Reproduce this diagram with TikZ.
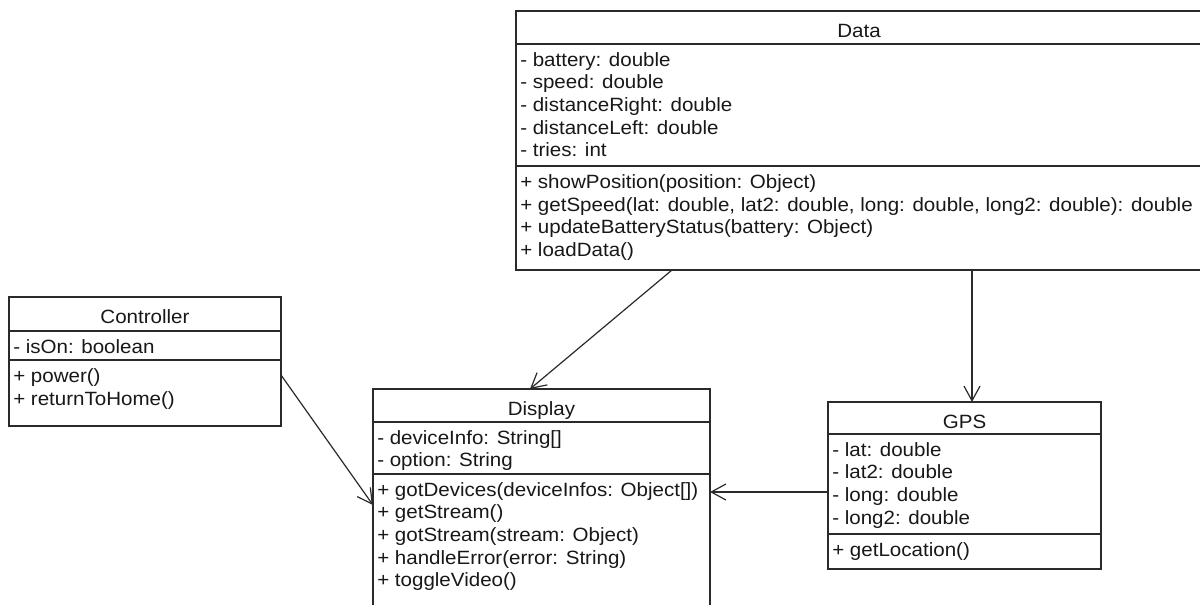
\documentclass[tikz,border=0pt]{standalone}
\usepackage{fontspec}
\setmainfont[FakeStretch=1.07]{Liberation Sans}
\usetikzlibrary{arrows.meta,fit}
\definecolor{ink}{HTML}{181818}
\definecolor{edge}{HTML}{2A2A2A}
\begin{document}
\begin{tikzpicture}[x=0.75pt,y=-0.75pt,
  box/.style={draw=edge, line width=1pt, inner sep=0pt, outer sep=0pt},
  rule/.style={draw=edge, line width=1pt},
  title/.style={anchor=base, inner sep=0pt, text=ink, font=\fontsize{14.4pt}{16pt}\selectfont},
  member/.style={anchor=base west, inner sep=0pt, text=ink, font=\fontsize{14.4pt}{16pt}\selectfont},
  dep/.style={draw=edge, line width=0.9pt, -{Straight Barb[length=11pt,width=12pt]}}]
\useasboundingbox (0,0) rectangle (1200,604);
\fill[white] (0,0) rectangle (1200,604);
\clip (0,0) rectangle (1200,604);

% ---- class Data ----
\node[box, fit={(516,11) (1203,270)}] (data) {};
\draw[rule] (data.west |- 0,44) -- (data.east |- 0,44);
\draw[rule] (data.west |- 0,166) -- (data.east |- 0,166);
\node[title] (dataT) at (859,37) {Data};
\node[member] (da1) at (520,66) {- battery: double};
\node[member] (da2) at (520,88.7) {- speed: double};
\node[member] (da3) at (520,111.4) {- distanceRight: double};
\node[member] (da4) at (520,134.1) {- distanceLeft: double};
\node[member] (da5) at (520,156.8) {- tries: int};
\node[member] (dm1) at (520,188.5) {+ showPosition(position: Object)};
\node[member] (dm2) at (520,211.2) {+ getSpeed(lat: double, lat2: double, long: double, long2: double): double};
\node[member] (dm3) at (520,233.9) {+ updateBatteryStatus(battery: Object)};
\node[member] (dm4) at (520,256.6) {+ loadData()};

% ---- class Controller ----
\node[box, fit={(9,297) (281,426)}] (ctrl) {};
\draw[rule] (ctrl.west |- 0,331) -- (ctrl.east |- 0,331);
\draw[rule] (ctrl.west |- 0,360) -- (ctrl.east |- 0,360);
\node[title] (ctrlT) at (ctrl.north |- 0,323) {Controller};
\node[member] (ca1) at (13,353) {- isOn: boolean};
\node[member] (cm1) at (13,382) {+ power()};
\node[member] (cm2) at (13,405) {+ returnToHome()};

% ---- class Display ----
\node[box, fit={(373,389) (710,640)}] (display) {};
\draw[rule] (display.west |- 0,422) -- (display.east |- 0,422);
\draw[rule] (display.west |- 0,474) -- (display.east |- 0,474);
\node[title] (dispT) at (display.north |- 0,415) {Display};
\node[member] (pa1) at (377,444) {- deviceInfo: String[]};
\node[member] (pa2) at (377,466.5) {- option: String};
\node[member] (pm1) at (377,496) {+ gotDevices(deviceInfos: Object[])};
\node[member] (pm2) at (377,518.7) {+ getStream()};
\node[member] (pm3) at (377,541.4) {+ gotStream(stream: Object)};
\node[member] (pm4) at (377,564.1) {+ handleError(error: String)};
\node[member] (pm5) at (377,586.8) {+ toggleVideo()};

% ---- class GPS ----
\node[box, fit={(828,402) (1101,569)}] (gps) {};
\draw[rule] (gps.west |- 0,434) -- (gps.east |- 0,434);
\draw[rule] (gps.west |- 0,534) -- (gps.east |- 0,534);
\node[title] (gpsT) at (gps.north |- 0,428) {GPS};
\node[member] (ga1) at (832,456) {- lat: double};
\node[member] (ga2) at (832,478.7) {- lat2: double};
\node[member] (ga3) at (832,501.4) {- long: double};
\node[member] (ga4) at (832,524.1) {- long2: double};
\node[member] (gm1) at (832,556) {+ getLocation()};

% ---- dependencies ----
\draw[dep] (data.south -| 672,0) -- (display.north -| 530,0);
\draw[dep] (data.south -| 972,0) -- (gps.north -| 972,0);
\draw[dep] (ctrl.east |- 0,375) -- (display.west |- 0,505);
\draw[dep] (gps.west |- 0,492) -- (display.east |- 0,492);
\end{tikzpicture}
\end{document}
